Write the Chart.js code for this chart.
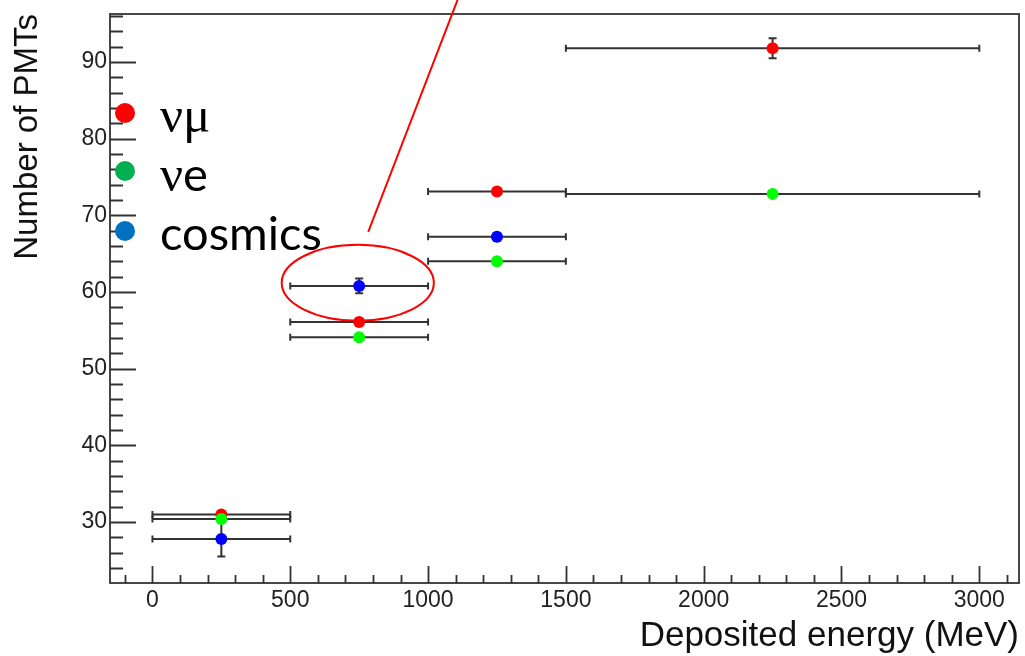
<!DOCTYPE html>
<html>
<head>
<meta charset="utf-8">
<script src="https://cdn.jsdelivr.net/npm/chart.js@4.4.1/dist/chart.umd.min.js"></script>
<style>
  html, body { margin: 0; padding: 0; background: #fff; }
  #wrap { position: relative; width: 1025px; height: 656px; overflow: hidden; }
  #pmtChart { position: absolute; left: 0; top: 0; }
  .key { position: absolute; left: 115px; height: 60px; }
  .key .dot { position: absolute; left: 0; width: 20px; height: 20px; border-radius: 50%; }
  .key .lbl { position: absolute; left: 45px; white-space: nowrap; font-family: Lato, 'Open Sans', sans-serif; font-size: 47px; line-height: 46px; color: #000; }
  .greek { font-family: 'Liberation Serif', 'DejaVu Serif', serif; font-size: 51px; }
</style>
</head>
<body>
<div id="wrap">
  <canvas id="pmtChart" width="1025" height="656"></canvas>
  <div class="key" style="top:91px"><div class="dot" style="top:12px;background:#ff0000"></div><div class="lbl" style="top:0"><span class="greek">νμ</span></div></div>
  <div class="key" style="top:150px"><div class="dot" style="top:11px;background:#00b050"></div><div class="lbl" style="top:0"><span class="greek">ν</span>e</div></div>
  <div class="key" style="top:209px"><div class="dot" style="top:12px;background:#0070c0"></div><div class="lbl" style="top:0">cosmics</div></div>
</div>
<script>
// energy bins (bin centre and half width, MeV)
const binCentre = [250, 750, 1250, 2250];
const binHalf = [250, 250, 250, 750];

// mean number of PMTs per bin
const numuPMTs = [31.0, 56.1, 73.1, 91.8];
const numuErr = [0.3, 0.4, 0.4, 1.3];
const nuePMTs = [30.4, 54.1, 64.0, 72.8];
const nueErr = [0.3, 0.3, 0.3, 0.3];
const cosmicPMTs = [27.8, 60.8, 67.2];
const cosmicErr = [2.3, 0.95, 0.5];

const xTicks = [0, 500, 1000, 1500, 2000, 2500, 3000];
const yTicks = [30, 40, 50, 60, 70, 80, 90];

const AXIS = '#333';

function points(ys, errs) {
  return ys.map((y, i) => ({ x: binCentre[i], y: y, dx: binHalf[i], dy: errs[i] }));
}

// keep the plot frame fixed: no extra room for edge labels
function fixBox(s, size) {
  if (s.isHorizontal()) s.height = size; else s.width = size;
  s.paddingTop = s.paddingBottom = s.paddingLeft = s.paddingRight = 0;
}

// ROOT-style frame with inward major/minor ticks
const frameTicks = {
  id: 'frameTicks',
  beforeDatasetsDraw(chart) {
    const { ctx, chartArea: a, scales: { x, y } } = chart;
    ctx.save();
    ctx.strokeStyle = AXIS;
    ctx.lineWidth = 1.8;
    ctx.strokeRect(a.left, a.top, a.right - a.left, a.bottom - a.top);
    ctx.beginPath();
    for (let v = -100; v <= 3100; v += 100) {
      const px = Math.round(x.getPixelForValue(v)) + 0.5;
      const len = v % 500 === 0 ? 17 : 8;
      ctx.moveTo(px, a.bottom);
      ctx.lineTo(px, a.bottom - len);
    }
    for (let v = 24; v <= 96; v += 2) {
      const py = Math.round(y.getPixelForValue(v)) + 0.5;
      const len = v % 10 === 0 ? 26 : 13;
      ctx.moveTo(a.left, py);
      ctx.lineTo(a.left + len, py);
    }
    ctx.stroke();
    ctx.restore();
  }
};

// x bin width and y error bars with end caps
const errorBars = {
  id: 'errorBars',
  beforeDatasetsDraw(chart) {
    const { ctx, scales: { x, y } } = chart;
    ctx.save();
    ctx.strokeStyle = AXIS;
    ctx.lineWidth = 2;
    chart.data.datasets.forEach(ds => {
      ds.data.forEach(p => {
        const x0 = x.getPixelForValue(p.x - p.dx), x1 = x.getPixelForValue(p.x + p.dx);
        const xc = x.getPixelForValue(p.x);
        const yc = y.getPixelForValue(p.y);
        const y0 = y.getPixelForValue(p.y - p.dy), y1 = y.getPixelForValue(p.y + p.dy);
        ctx.beginPath();
        ctx.moveTo(x0, yc); ctx.lineTo(x1, yc);
        ctx.moveTo(x0, yc - 3.5); ctx.lineTo(x0, yc + 3.5);
        ctx.moveTo(x1, yc - 3.5); ctx.lineTo(x1, yc + 3.5);
        ctx.moveTo(xc, y0); ctx.lineTo(xc, y1);
        ctx.moveTo(xc - 4, y0); ctx.lineTo(xc + 4, y0);
        ctx.moveTo(xc - 4, y1); ctx.lineTo(xc + 4, y1);
        ctx.stroke();
      });
    });
    ctx.restore();
  }
};

// red ring around the cosmic point at 750 MeV with pointer line
const callout = {
  id: 'callout',
  afterDraw(chart) {
    const { ctx, scales: { x, y } } = chart;
    const cx = x.getPixelForValue(745), cy = y.getPixelForValue(61.2);
    const rx = x.getPixelForValue(745 + 276) - cx;
    const ry = cy - y.getPixelForValue(61.2 + 4.95);
    ctx.save();
    ctx.strokeStyle = '#ff0000';
    ctx.lineWidth = 2;
    ctx.beginPath();
    ctx.ellipse(cx, cy, rx, ry, 0, 0, Math.PI * 2);
    ctx.stroke();
    ctx.beginPath();
    ctx.moveTo(x.getPixelForValue(783), y.getPixelForValue(67.85));
    ctx.lineTo(x.getPixelForValue(1107), y.getPixelForValue(98.1));
    ctx.stroke();
    ctx.restore();
  }
};

const tickFont = { family: "'Liberation Sans', Arial, sans-serif", size: 23 };

new Chart(document.getElementById('pmtChart'), {
  type: 'scatter',
  data: {
    datasets: [
      { label: 'νμ', data: points(numuPMTs, numuErr), backgroundColor: '#ff0000', order: 3 },
      { label: 'νe', data: points(nuePMTs, nueErr), backgroundColor: '#00ff00', order: 2 },
      { label: 'cosmics', data: points(cosmicPMTs, cosmicErr), backgroundColor: '#0000ff', order: 1 },
    ]
  },
  options: {
    responsive: false,
    animation: false,
    layout: { padding: { top: 14, right: 5, left: 0, bottom: 0 } },
    elements: { point: { radius: 6, borderWidth: 0, hoverRadius: 6 } },
    plugins: { legend: { display: false }, tooltip: { enabled: false } },
    scales: {
      x: {
        type: 'linear',
        min: -154,
        max: 3144,
        afterFit: s => fixBox(s, 73),
        afterBuildTicks: s => { s.ticks = xTicks.map(v => ({ value: v })); },
        grid: { display: false, drawTicks: false },
        border: { display: false },
        ticks: { font: tickFont, color: '#222', padding: 4, maxRotation: 0, callback: v => String(v) },
        title: {
          display: true, text: 'Deposited energy (MeV)', align: 'end', color: '#111',
          font: { family: "'Liberation Sans', Arial, sans-serif", size: 35, lineHeight: 1.1 },
          padding: { top: 0, bottom: 0 }
        }
      },
      y: {
        min: 22.05,
        max: 96.26,
        afterFit: s => fixBox(s, 110),
        afterBuildTicks: s => { s.ticks = yTicks.map(v => ({ value: v })); },
        grid: { display: false, drawTicks: false },
        border: { display: false },
        ticks: { font: tickFont, color: '#222', padding: 3, callback: v => String(v) },
        title: {
          display: true, text: 'Number of PMTs', align: 'end', color: '#111',
          font: { family: "'Liberation Sans', Arial, sans-serif", size: 33, lineHeight: 1.1 },
          padding: { top: 10, bottom: 0 }
        }
      }
    }
  },
  plugins: [frameTicks, errorBars, callout]
});
</script>
</body>
</html>
